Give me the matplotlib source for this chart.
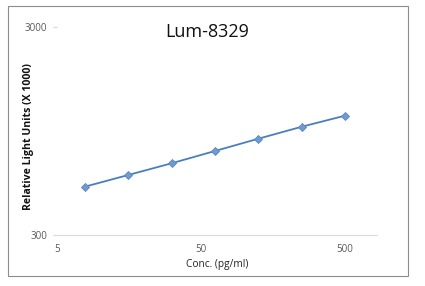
import matplotlib
matplotlib.use("Agg")
import matplotlib.pyplot as plt
from matplotlib.ticker import FixedLocator, FixedFormatter, NullLocator
from matplotlib.patches import Rectangle

conc = [7.8125, 15.625, 31.25, 62.5, 125, 250, 500]
rlu = [514, 585, 666, 763, 874, 998, 1128]
x_ticks = [5, 50, 500]
x_tick_labels = ["5", "50", "500"]
y_ticks = [300, 3000]
y_tick_labels = ["300", "3000"]

plt.rcParams['font.family'] = ['Open Sans', 'DejaVu Sans']

fig = plt.figure(figsize=(4.25, 2.86), dpi=100)
ax = fig.add_axes([0.134, 0.177, 0.753, 0.728])
ax.set_xscale('log')
ax.set_yscale('log')
ax.plot(conc, rlu, color='#4a7ebf', lw=1.3, marker='D', ms=4.5,
        mfc='#6f9bd2', mec='#5a85bd', mew=0.6)
ax.set_xlim(5, 830)
ax.set_ylim(300, 3000)
ax.xaxis.set_major_locator(FixedLocator(x_ticks))
ax.xaxis.set_major_formatter(FixedFormatter(x_tick_labels))
ax.xaxis.set_minor_locator(NullLocator())
ax.yaxis.set_major_locator(FixedLocator(y_ticks))
ax.yaxis.set_major_formatter(FixedFormatter(y_tick_labels))
ax.yaxis.set_minor_locator(NullLocator())
for s in ['top', 'right', 'left']:
    ax.spines[s].set_visible(False)
ax.spines['bottom'].set_color('#d9d9d9')
ax.spines['bottom'].set_linewidth(0.8)
ax.tick_params(axis='x', length=0, pad=6, labelsize=7, labelcolor='#595959')
ax.tick_params(axis='y', length=3, color='#d9d9d9', pad=4, labelsize=7, labelcolor='#595959')
ax.set_xlabel('Conc. (pg/ml)', fontsize=7.3, color='#222222', labelpad=3)
fig.text(29/425, 1-137/286, 'Relative Light Units (X 1000)', rotation=90, ha='center',
         va='center', fontsize=7.6, fontweight='bold', color='#111111')
fig.text(0.487, 0.888, 'Lum-8329', ha='center', va='center', fontsize=13,
         fontweight='medium', color='#111111')
fig.patches.append(Rectangle((8/425, 1-276/286), 400/425, 270/286, transform=fig.transFigure,
                             fill=False, edgecolor='#8c8c8c', lw=0.8))
fig.savefig('out.png', dpi=100)
